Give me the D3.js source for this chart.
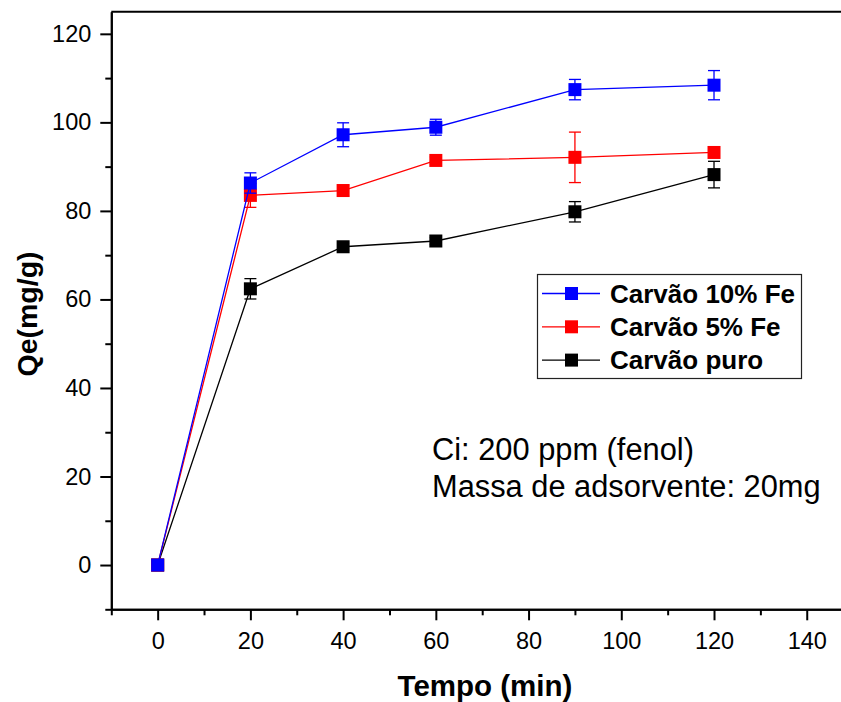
<!DOCTYPE html>
<html>
<head>
<meta charset="utf-8">
<script src="https://cdn.jsdelivr.net/npm/d3@7"></script>
<style>
  html, body { margin: 0; padding: 0; background: #fff; }
  svg { display: block; font-family: "Liberation Sans", Arial, sans-serif; }
</style>
</head>
<body>
<svg id="chart" width="841" height="702"></svg>
<script>
// Adsorption kinetics: time (min) vs Qe (mg/g)
const times = [0, 20, 40, 60, 90, 120];

const seriesNames = ["Carvão puro", "Carvão 5% Fe", "Carvão 10% Fe"];
const seriesColors = ["#000000", "#ff0000", "#0000ff"];

const qePuro = [0, 62.4, 71.9, 73.2, 79.8, 88.2];
const qe5Fe = [0, 83.5, 84.6, 91.4, 92.1, 93.2];
const qe10Fe = [0, 86.3, 97.2, 98.9, 107.4, 108.4];

const errPuro = [0, 2.3, 0.8, 0.8, 2.3, 3.0];
const err5Fe = [0, 2.7, 1.2, 0.8, 5.7, 0.8];
const err10Fe = [0, 2.3, 2.7, 1.8, 2.3, 3.3];

const xTicks = [0, 20, 40, 60, 80, 100, 120, 140];
const xMinorTicks = [-10, 10, 30, 50, 70, 90, 110, 130, 150];
const yTicks = [0, 20, 40, 60, 80, 100, 120];
const yMinorTicks = [-10, 10, 30, 50, 70, 90, 110];

const legendOrder = ["Carvão 10% Fe", "Carvão 5% Fe", "Carvão puro"];
const noteLines = ["Ci: 200 ppm (fenol)", "Massa de adsorvente: 20mg"];

const seriesValues = [qePuro, qe5Fe, qe10Fe];
const seriesErrors = [errPuro, err5Fe, err10Fe];

const svg = d3.select("#chart");

const x = d3.scaleLinear().domain([-10, 150]).range([111.3, 853.1]);
const y = d3.scaleLinear().domain([-10, 125]).range([609.3, 11.7]);

// Axes
const axisColor = "#000";
const gx = svg.append("g").attr("transform", `translate(0,${y(-10)})`);
gx.call(d3.axisBottom(x).tickValues(xTicks).tickSize(11).tickPadding(12).tickSizeOuter(0));
const gxm = svg.append("g").attr("transform", `translate(0,${y(-10)})`);
gxm.call(d3.axisBottom(x).tickValues(xMinorTicks).tickSize(6).tickFormat("").tickSizeOuter(0));

const gy = svg.append("g").attr("transform", `translate(${x(-10)},0)`);
gy.call(d3.axisLeft(y).tickValues(yTicks).tickSize(11).tickPadding(9).tickSizeOuter(0));
const gym = svg.append("g").attr("transform", `translate(${x(-10)},0)`);
gym.call(d3.axisLeft(y).tickValues(yMinorTicks).tickSize(6).tickFormat("").tickSizeOuter(0));

svg.selectAll(".domain").attr("stroke", axisColor).attr("stroke-width", 2);
svg.selectAll(".tick line").attr("stroke", axisColor).attr("stroke-width", 2);
svg.selectAll(".tick text")
  .attr("fill", "#000")
  .style("font-size", "23.5px")
  .style("font-family", "'Liberation Sans', Arial, sans-serif");

// Top frame line
svg.append("line")
  .attr("x1", x(-10)).attr("x2", 841)
  .attr("y1", y(125)).attr("y2", y(125))
  .attr("stroke", axisColor).attr("stroke-width", 2);

// Axis titles
svg.append("text")
  .attr("x", 485).attr("y", 696)
  .attr("text-anchor", "middle")
  .style("font-size", "29.5px").style("font-weight", "bold")
  .text("Tempo (min)");

svg.append("text")
  .attr("transform", "translate(37,314) rotate(-90)")
  .attr("text-anchor", "middle")
  .style("font-size", "28.5px").style("font-weight", "bold")
  .text("Qe(mg/g)");

// Series: lines, error bars, square markers
const markerSize = 13;
const capHalf = 6;
const line = d3.line().x(d => x(d.t)).y(d => y(d.v));

seriesValues.forEach((vals, i) => {
  const color = seriesColors[i];
  const pts = times.map((t, k) => ({ t, v: vals[k], e: seriesErrors[i][k] }));
  const g = svg.append("g");

  g.append("path")
    .datum(pts)
    .attr("d", line)
    .attr("fill", "none")
    .attr("stroke", color)
    .attr("stroke-width", 1.3);

  const eb = g.selectAll(".err").data(pts.filter(p => p.e > 0)).enter().append("g");
  eb.append("line")
    .attr("x1", d => x(d.t)).attr("x2", d => x(d.t))
    .attr("y1", d => y(d.v + d.e)).attr("y2", d => y(d.v - d.e))
    .attr("stroke", color).attr("stroke-width", 1.3);
  eb.append("line")
    .attr("x1", d => x(d.t) - capHalf).attr("x2", d => x(d.t) + capHalf)
    .attr("y1", d => y(d.v + d.e)).attr("y2", d => y(d.v + d.e))
    .attr("stroke", color).attr("stroke-width", 1.3);
  eb.append("line")
    .attr("x1", d => x(d.t) - capHalf).attr("x2", d => x(d.t) + capHalf)
    .attr("y1", d => y(d.v - d.e)).attr("y2", d => y(d.v - d.e))
    .attr("stroke", color).attr("stroke-width", 1.3);

  g.selectAll("rect").data(pts).enter().append("rect")
    .attr("x", d => x(d.t) - markerSize / 2)
    .attr("y", d => y(d.v) - markerSize / 2)
    .attr("width", markerSize).attr("height", markerSize)
    .attr("fill", color);
});

// Legend
const legend = svg.append("g");
legend.append("rect")
  .attr("x", 537.5).attr("y", 274.5)
  .attr("width", 264).attr("height", 104)
  .attr("fill", "#fff").attr("stroke", "#222").attr("stroke-width", 1.2);

legendOrder.forEach((name, r) => {
  const idx = seriesNames.indexOf(name);
  const cy = 293.5 + r * 33.3;
  legend.append("line")
    .attr("x1", 542).attr("x2", 600)
    .attr("y1", cy).attr("y2", cy)
    .attr("stroke", seriesColors[idx]).attr("stroke-width", 1.3);
  legend.append("rect")
    .attr("x", 571.5 - 6.5).attr("y", cy - 6.5)
    .attr("width", 13).attr("height", 13)
    .attr("fill", seriesColors[idx]);
  legend.append("text")
    .attr("x", 610).attr("y", cy + 9)
    .style("font-size", "26px").style("font-weight", "bold")
    .text(name);
});

// Experimental conditions note
noteLines.forEach((txt, i) => {
  svg.append("text")
    .attr("x", 432).attr("y", 460 + i * 37)
    .style("font-size", "30.8px")
    .text(txt);
});
</script>
</body>
</html>
